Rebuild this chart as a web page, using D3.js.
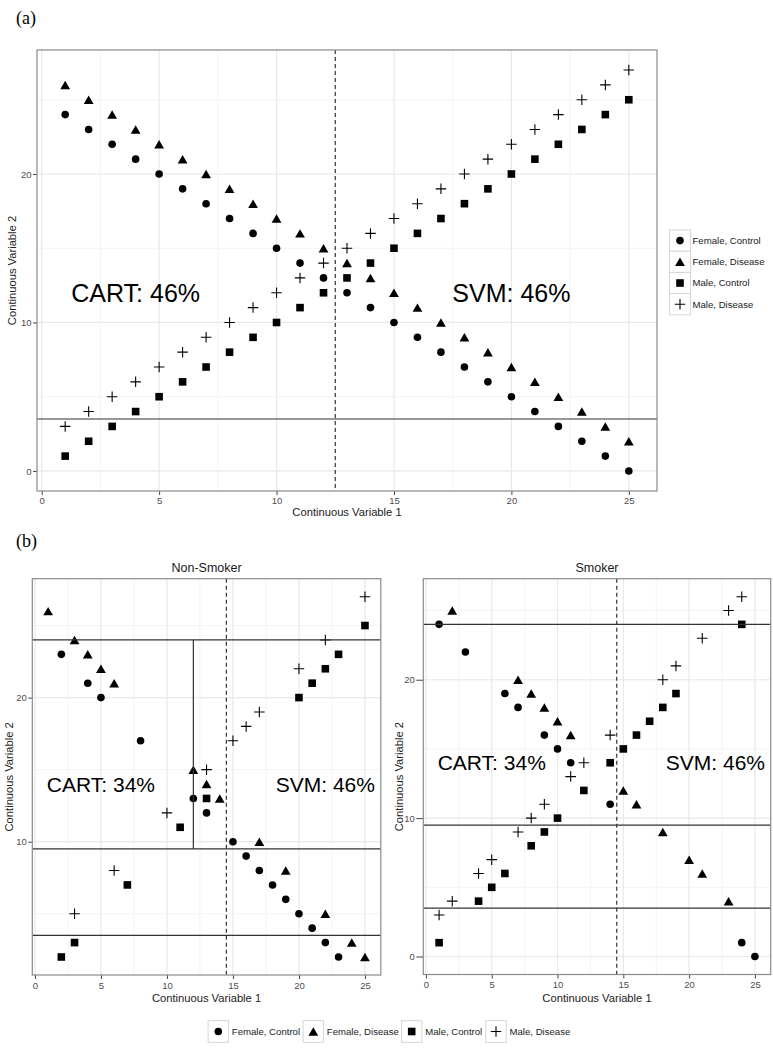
<!DOCTYPE html>
<html>
<head>
<meta charset="utf-8">
<script src="https://cdn.jsdelivr.net/npm/d3@7"></script>
<style>
body { margin: 0; background: #fff; }
svg { display: block; font-family: "Liberation Sans", Arial, sans-serif; }
</style>
</head>
<body>
<div id="chart"></div>
<script>
// ---------- data ----------
var groups = ["Female, Control", "Female, Disease", "Male, Control", "Male, Disease"];
var shapeOf = ["circle", "triangle", "square", "plus"];

// panel (a): every subject
var aX             = [1,2,3,4,5,6,7,8,9,10,11,12,13,14,15,16,17,18,19,20,21,22,23,24,25];
var aFemaleControl = [24,23,22,21,20,19,18,17,16,15,14,13,12,11,10,9,8,7,6,5,4,3,2,1,0];
var aFemaleDisease = [26,25,24,23,22,21,20,19,18,17,16,15,14,13,12,11,10,9,8,7,6,5,4,3,2];
var aMaleControl   = [1,2,3,4,5,6,7,8,9,10,11,12,13,14,15,16,17,18,19,20,21,22,23,24,25];
var aMaleDisease   = [3,4,5,6,7,8,9,10,11,12,13,14,15,16,17,18,19,20,21,22,23,24,25,26,27];

// panel (b): split by smoking status, [x, y]
var nsFemaleControl = [[2,23],[4,21],[5,20],[8,17],[12,13],[13,12],[15,10],[16,9],[17,8],[18,7],[19,6],[20,5],[21,4],[22,3],[23,2]];
var nsFemaleDisease = [[1,26],[3,24],[4,23],[5,22],[6,21],[12,15],[13,14],[14,13],[17,10],[19,8],[22,5],[24,3],[25,2]];
var nsMaleControl   = [[2,2],[3,3],[7,7],[11,11],[13,13],[20,20],[21,21],[22,22],[23,23],[25,25]];
var nsMaleDisease   = [[3,5],[6,8],[10,12],[13,15],[15,17],[16,18],[17,19],[20,22],[22,24],[25,27]];

var smFemaleControl = [[1,24],[3,22],[6,19],[7,18],[9,16],[10,15],[11,14],[14,11],[24,1],[25,0]];
var smFemaleDisease = [[2,25],[7,20],[8,19],[9,18],[10,17],[11,16],[15,12],[16,11],[18,9],[20,7],[21,6],[23,4]];
var smMaleControl   = [[1,1],[4,4],[5,5],[6,6],[8,8],[9,9],[10,10],[12,12],[14,14],[15,15],[16,16],[17,17],[18,18],[19,19],[24,24]];
var smMaleDisease   = [[1,3],[2,4],[4,6],[5,7],[7,9],[8,10],[9,11],[11,13],[12,14],[14,16],[18,20],[19,21],[21,23],[23,25],[24,26]];

// classifier boundaries
var aHLines = [3.5];
var aCut = 12.5;
var nsHLines = [24, 9.5, 3.5];
var nsVSeg = {x: 12, y0: 9.5, y1: 24};
var smHLines = [24, 9.5, 3.5];
var bCut = 14.5;

// annotations
var aLabels = [{x: 4, y: 12, t: "CART: 46%"}, {x: 20, y: 12, t: "SVM: 46%"}];
var bLabels = [{x: 5, y: 14, t: "CART: 34%"}, {x: 22, y: 14, t: "SVM: 46%"}];

// ticks
var xTicks = [0,5,10,15,20,25];
var xMinor = [2.5,7.5,12.5,17.5,22.5];
var yTicks = [0,10,20];
var yMinor = [5,15,25];

// ---------- drawing ----------
var W = 773, H = 1050;
var svg = d3.select("#chart").append("svg")
    .attr("width", W)
    .attr("height", H);

var shapes = {
  circle: {draw: function(c, s) { var r = s / 2; c.moveTo(r, 0); c.arc(0, 0, r, 0, 2 * Math.PI); }},
  triangle: {draw: function(c, s) { var h = s * Math.sqrt(3) / 2; c.moveTo(0, -h / 2); c.lineTo(s / 2, h / 2); c.lineTo(-s / 2, h / 2); c.closePath(); }},
  square: {draw: function(c, s) { c.rect(-s / 2, -s / 2, s, s); }},
  plus: {draw: function(c, s) { c.moveTo(-s / 2, 0); c.lineTo(s / 2, 0); c.moveTo(0, -s / 2); c.lineTo(0, s / 2); }}
};
var shapeSize = {circle: 7.6, triangle: 9.8, square: 7.6, plus: 10.5};

function mark(sel, shape) {
  sel.attr("d", d3.symbol().type(shapes[shape]).size(shapeSize[shape]))
    .attr("fill", shape == "plus" ? "none" : "#000")
    .attr("stroke", shape == "plus" ? "#000" : "none")
    .attr("stroke-width", 1.1);
}

function panel(cfg) {
  var g = svg.append("g");
  var x = d3.scaleLinear().domain([-0.2, 26.2]).range([cfg.left, cfg.right]);
  var y = d3.scaleLinear().domain(cfg.yDomain).range([cfg.bottom, cfg.top]);
  var yt = yTicks.filter(v => v >= cfg.yDomain[0] && v <= cfg.yDomain[1]);
  var ym = yMinor.filter(v => v >= cfg.yDomain[0] && v <= cfg.yDomain[1]);

  // grid
  g.selectAll(".vmin").data(xMinor).enter().append("line")
    .attr("x1", d => x(d)).attr("x2", d => x(d)).attr("y1", cfg.top).attr("y2", cfg.bottom)
    .attr("stroke", "#f3f3f3").attr("stroke-width", 1);
  g.selectAll(".hmin").data(ym).enter().append("line")
    .attr("y1", d => y(d)).attr("y2", d => y(d)).attr("x1", cfg.left).attr("x2", cfg.right)
    .attr("stroke", "#f3f3f3").attr("stroke-width", 1);
  g.selectAll(".vmaj").data(xTicks).enter().append("line")
    .attr("x1", d => x(d)).attr("x2", d => x(d)).attr("y1", cfg.top).attr("y2", cfg.bottom)
    .attr("stroke", "#e8e8e8").attr("stroke-width", 1.2);
  g.selectAll(".hmaj").data(yt).enter().append("line")
    .attr("y1", d => y(d)).attr("y2", d => y(d)).attr("x1", cfg.left).attr("x2", cfg.right)
    .attr("stroke", "#e8e8e8").attr("stroke-width", 1.2);

  // axes
  var ax = g.append("g")
    .attr("transform", "translate(0," + cfg.bottom + ")")
    .call(d3.axisBottom(x).tickValues(xTicks).tickSize(4).tickPadding(cfg.xPad));
  var ay = g.append("g")
    .attr("transform", "translate(" + cfg.left + ",0)")
    .call(d3.axisLeft(y).tickValues(yt).tickSize(cfg.yTick || 4).tickPadding(cfg.yPad));
  [ax, ay].forEach(a => {
    a.select(".domain").remove();
    a.selectAll(".tick line").attr("stroke", "#444");
    a.selectAll("text").attr("fill", "#4d4d4d")
      .style("font-family", "Liberation Sans, Arial, sans-serif").style("font-size", "9.5px");
  });

  // axis titles
  g.append("text")
    .attr("x", (cfg.left + cfg.right) / 2).attr("y", cfg.xTitleY)
    .attr("text-anchor", "middle").style("font-size", "11.2px").attr("fill", "#222")
    .text("Continuous Variable 1");
  g.append("text")
    .attr("transform", "translate(" + cfg.yTitleX + "," + (cfg.top + cfg.bottom) / 2 + ") rotate(-90)")
    .attr("text-anchor", "middle").style("font-size", "11.2px").attr("fill", "#222")
    .text("Continuous Variable 2");

  if (cfg.strip) {
    g.append("text")
      .attr("x", (cfg.left + cfg.right) / 2).attr("y", cfg.top - 7)
      .attr("text-anchor", "middle").style("font-size", "12.5px").attr("fill", "#1a1a1a")
      .text(cfg.strip);
  }

  // points
  cfg.series.forEach((pts, i) => {
    g.selectAll(".s" + i).data(pts).enter().append("path")
      .attr("transform", d => "translate(" + x(d[0]) + "," + y(d[1]) + ")")
      .call(mark, shapeOf[i]);
  });

  // boundaries
  g.selectAll(".hl").data(cfg.hlines).enter().append("line")
    .attr("x1", cfg.left).attr("x2", cfg.right)
    .attr("y1", d => y(d)).attr("y2", d => y(d))
    .attr("stroke", "#333").attr("stroke-width", 1.2);
  if (cfg.vseg) {
    g.append("line")
      .attr("x1", x(cfg.vseg.x)).attr("x2", x(cfg.vseg.x))
      .attr("y1", y(cfg.vseg.y0)).attr("y2", y(cfg.vseg.y1))
      .attr("stroke", "#333").attr("stroke-width", 1.2);
  }
  g.append("line")
    .attr("x1", x(cfg.cut)).attr("x2", x(cfg.cut))
    .attr("y1", cfg.top).attr("y2", cfg.bottom)
    .attr("stroke", "#333").attr("stroke-width", 1.2).attr("stroke-dasharray", "4,3");

  // accuracy labels
  g.selectAll(".lab").data(cfg.labels).enter().append("text")
    .attr("x", d => x(d.x)).attr("y", d => y(d.y)).attr("dy", "0.36em")
    .attr("text-anchor", "middle").style("font-size", cfg.labelSize + "px").attr("fill", "#000")
    .text(d => d.t);

  // border
  g.append("rect")
    .attr("x", cfg.left).attr("y", cfg.top)
    .attr("width", cfg.right - cfg.left).attr("height", cfg.bottom - cfg.top)
    .attr("fill", "none").attr("stroke", "#8a8a8a").attr("stroke-width", 1.2);
}

function zip(xs, ys) { return xs.map((v, i) => [v, ys[i]]); }

// (a)
panel({
  left: 37, right: 657, top: 50, bottom: 491,
  yDomain: [-1.35, 28.35],
  series: [zip(aX, aFemaleControl), zip(aX, aFemaleDisease), zip(aX, aMaleControl), zip(aX, aMaleDisease)],
  hlines: aHLines, cut: aCut, labels: aLabels, labelSize: 25,
  xPad: 2, yPad: 1.5, xTitleY: 516, yTitleX: 16
});

// (b) non-smoker
panel({
  left: 32.3, right: 380.8, top: 578.7, bottom: 975,
  yDomain: [0.75, 28.25], strip: "Non-Smoker",
  series: [nsFemaleControl, nsFemaleDisease, nsMaleControl, nsMaleDisease],
  hlines: nsHLines, vseg: nsVSeg, cut: bCut, labels: bLabels, labelSize: 21,
  xPad: 3, yPad: 1.5, xTitleY: 1001.5, yTitleX: 13
});

// (b) smoker
panel({
  left: 423.3, right: 770.7, top: 578.7, bottom: 974.5,
  yDomain: [-1.3, 27.3], strip: "Smoker",
  series: [smFemaleControl, smFemaleDisease, smMaleControl, smMaleDisease],
  hlines: smHLines, cut: bCut, labels: bLabels, labelSize: 21,
  xPad: 3, yPad: 1.5, yTick: 7, xTitleY: 1001.5, yTitleX: 402.5
});

// panel letters
svg.append("text").attr("x", 16).attr("y", 24)
  .style("font-family", "Liberation Serif, serif").style("font-size", "18px").text("(a)");
svg.append("text").attr("x", 16).attr("y", 547)
  .style("font-family", "Liberation Serif, serif").style("font-size", "18px").text("(b)");

// legend (a): vertical
var legA = svg.append("g").selectAll("g").data(groups).enter().append("g")
  .attr("transform", (d, i) => "translate(680," + (240.6 + i * 21.2) + ")");
legA.append("rect").attr("x", -10.6).attr("y", -10.6).attr("width", 21.2).attr("height", 21.2)
  .attr("fill", "#fff").attr("stroke", "#d6d6d6");
legA.append("path").each(function(d, i) { d3.select(this).call(mark, shapeOf[i]); });
legA.append("text").attr("x", 12.5).attr("dy", "0.35em")
  .style("font-size", "9.6px").attr("fill", "#222").text(d => d);

// legend (b): horizontal
var legBX = [218.3, 313.3, 411.7, 496];
var legB = svg.append("g").selectAll("g").data(groups).enter().append("g")
  .attr("transform", (d, i) => "translate(" + legBX[i] + ",1031.5)");
legB.append("rect").attr("x", -10.2).attr("y", -10.8).attr("width", 20.4).attr("height", 21.6)
  .attr("fill", "#fff").attr("stroke", "#d6d6d6");
legB.append("path").each(function(d, i) { d3.select(this).call(mark, shapeOf[i]); });
legB.append("text").attr("x", 13.5).attr("dy", "0.35em")
  .style("font-size", "9.6px").attr("fill", "#222").text(d => d);
</script>
</body>
</html>
